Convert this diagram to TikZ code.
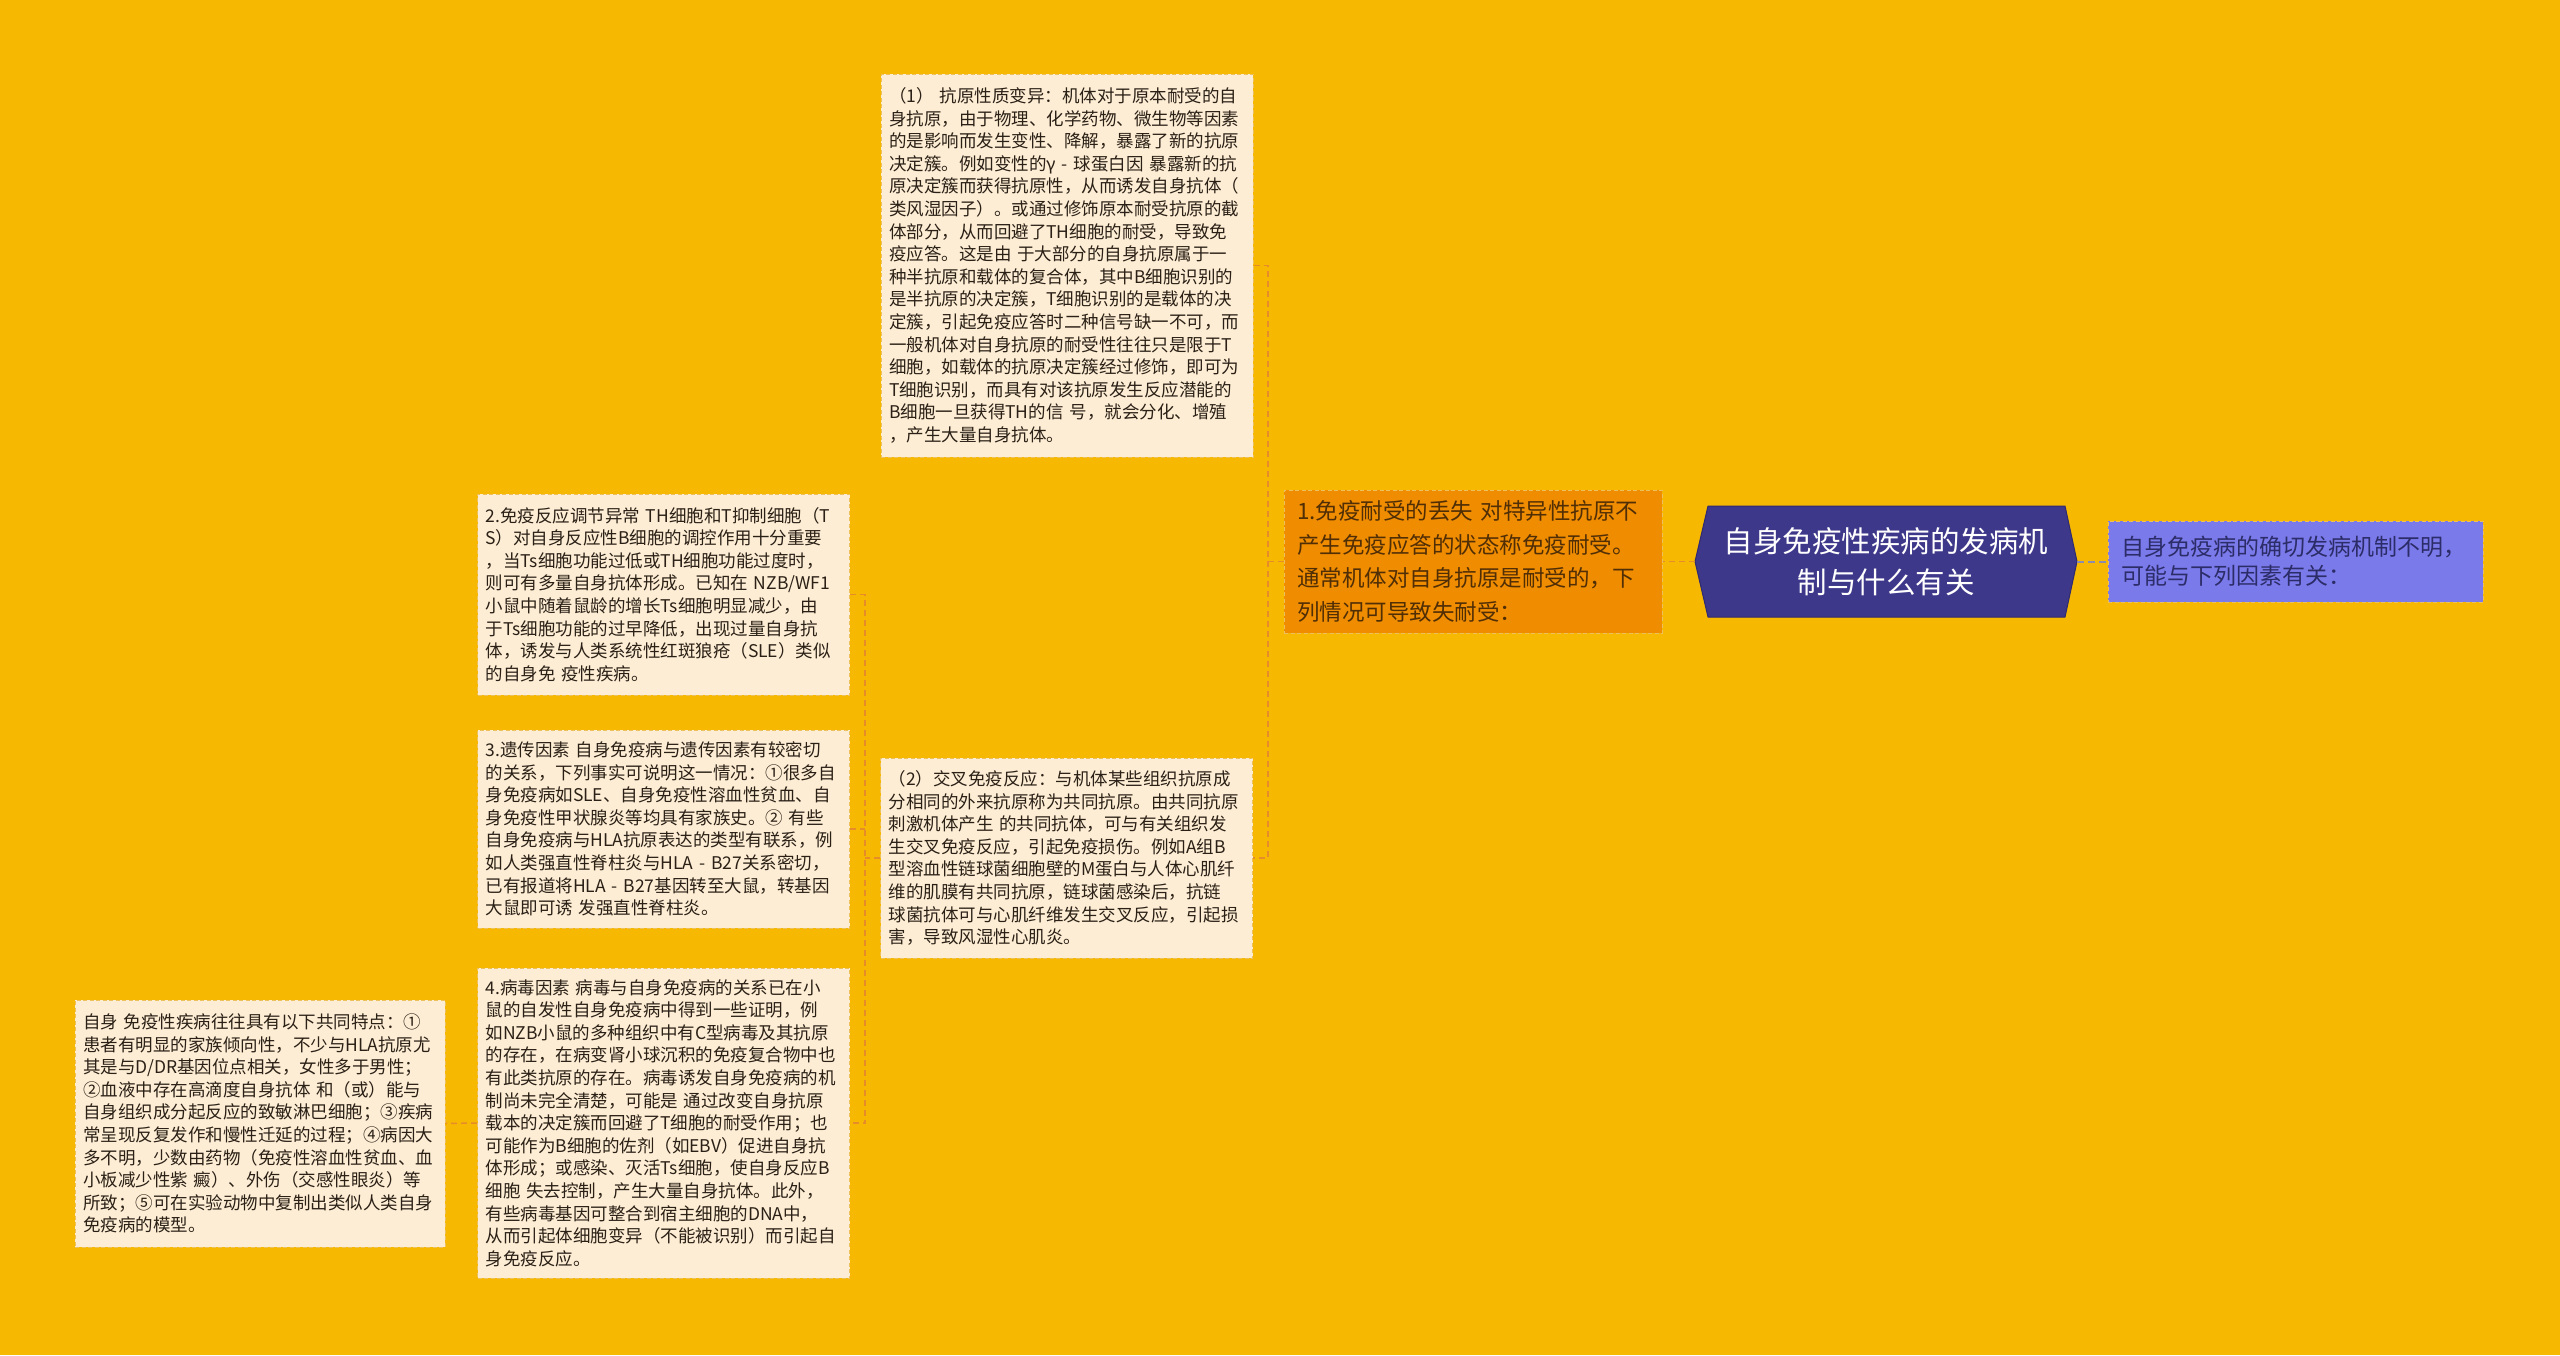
\documentclass[tikz,border=0pt]{standalone}
\usepackage{fontspec}
\usetikzlibrary{calc}
\newfontfamily\cjk{Noto Sans CJK SC}
\definecolor{bgcol}{RGB}{246,184,0}
\definecolor{boxfill}{RGB}{253,237,212}
\definecolor{boxborder}{RGB}{236,192,92}
\definecolor{boxtext}{RGB}{42,32,22}
\definecolor{orfill}{RGB}{240,140,0}
\definecolor{ortext}{RGB}{80,46,6}
\definecolor{cfill}{RGB}{62,56,138}
\definecolor{cborder}{RGB}{48,42,112}
\definecolor{rfill}{RGB}{122,122,235}
\definecolor{rtext}{RGB}{44,44,104}
\definecolor{conn}{RGB}{230,140,40}
\definecolor{conngray}{RGB}{140,140,175}
\begin{document}
\begin{tikzpicture}[x=1pt,y=-1pt,
  txtbox/.style={draw=boxborder, line width=1pt, dash pattern=on 4pt off 2.5pt, fill=boxfill, text=boxtext,
    font={\cjk\fontsize{17.5}{22.6}\selectfont}, align=left, text width=356pt, inner xsep=8pt, inner ysep=4pt,
    minimum width=372pt},
  ornode/.style={draw=boxborder, line width=1pt, dash pattern=on 4pt off 2.5pt, fill=orfill, text=ortext,
    font={\cjk\fontsize{22.5}{33.5}\selectfont}, align=left, text width=352pt, inner xsep=13pt, inner ysep=4pt,
    minimum width=378pt, minimum height=143pt},
  rnode/.style={draw=boxborder, line width=1pt, dash pattern=on 4pt off 2.5pt, fill=rfill, text=rtext,
    font={\cjk\fontsize{23}{29}\selectfont}, align=left, text width=349pt, inner xsep=13pt, inner ysep=4pt,
    minimum width=375pt, minimum height=81pt},
  cnode/.style={text=white, font={\cjk\fontsize{29.5}{41}\selectfont}, align=center, inner sep=0pt,
    minimum width=382pt, minimum height=111pt},
  link/.style={draw=conn, line width=1.5pt, dash pattern=on 6pt off 4pt},
  linkgray/.style={draw=conngray, line width=2pt, dash pattern=on 7pt off 4pt}
]
\fill[bgcol] (0,0) rectangle (2560,1355);

% central hexagon
\coordinate (cc) at (1886,561.5);
\fill[cfill, draw=cborder, line width=1pt]
  ($(cc)+(-191,0)$) -- ($(cc)+(-178,-55.5)$) -- ($(cc)+(179,-55.5)$) -- ($(cc)+(191,0)$)
  -- ($(cc)+(179,55.5)$) -- ($(cc)+(-178,55.5)$) -- cycle;
\node[cnode] (center) at (cc) {自身免疫性疾病的发病机\\制与什么有关};

\node[rnode] (right) at (2295.5,561.5) {自身免疫病的确切发病机制不明，\\可能与下列因素有关：};

\node[ornode] (tol) at (1473,561.5) {1.免疫耐受的丢失 对特异性抗原不\\产生免疫应答的状态称免疫耐受。\\通常机体对自身抗原是耐受的，下\\列情况可导致失耐受：};

\node[txtbox, minimum height=383pt] (a1) at (1067,265.5) {（1） 抗原性质变异：机体对于原本耐受的自\\身抗原，由于物理、化学药物、微生物等因素\\的是影响而发生变性、降解，暴露了新的抗原\\决定簇。例如变性的γ - 球蛋白因 暴露新的抗\\原决定簇而获得抗原性，从而诱发自身抗体（\\类风湿因子）。或通过修饰原本耐受抗原的截\\体部分，从而回避了TH细胞的耐受，导致免\\疫应答。这是由 于大部分的自身抗原属于一\\种半抗原和载体的复合体，其中B细胞识别的\\是半抗原的决定簇，T细胞识别的是载体的决\\定簇，引起免疫应答时二种信号缺一不可，而\\一般机体对自身抗原的耐受性往往只是限于T\\细胞，如载体的抗原决定簇经过修饰，即可为\\T细胞识别，而具有对该抗原发生反应潜能的\\B细胞一旦获得TH的信 号，就会分化、增殖\\，产生大量自身抗体。};

\node[txtbox, minimum height=200pt] (a2) at (1066.5,858) {（2）交叉免疫反应：与机体某些组织抗原成\\分相同的外来抗原称为共同抗原。由共同抗原\\刺激机体产生 的共同抗体，可与有关组织发\\生交叉免疫反应，引起免疫损伤。例如A组B\\型溶血性链球菌细胞壁的M蛋白与人体心肌纤\\维的肌膜有共同抗原，链球菌感染后，抗链\\球菌抗体可与心肌纤维发生交叉反应，引起损\\害，导致风湿性心肌炎。};

\node[txtbox, minimum height=201pt] (f2) at (663.5,594.5) {2.免疫反应调节异常 TH细胞和T抑制细胞（T\\S）对自身反应性B细胞的调控作用十分重要\\，当Ts细胞功能过低或TH细胞功能过度时，\\则可有多量自身抗体形成。已知在 NZB/WF1\\小鼠中随着鼠龄的增长Ts细胞明显减少，由\\于Ts细胞功能的过早降低，出现过量自身抗\\体，诱发与人类系统性红斑狼疮（SLE）类似\\的自身免 疫性疾病。};

\node[txtbox, minimum height=198pt] (f3) at (663.5,829) {3.遗传因素 自身免疫病与遗传因素有较密切\\的关系，下列事实可说明这一情况：①很多自\\身免疫病如SLE、自身免疫性溶血性贫血、自\\身免疫性甲状腺炎等均具有家族史。② 有些\\自身免疫病与HLA抗原表达的类型有联系，例\\如人类强直性脊柱炎与HLA - B27关系密切，\\已有报道将HLA - B27基因转至大鼠，转基因\\大鼠即可诱 发强直性脊柱炎。};

\node[txtbox, minimum height=310pt] (f4) at (663.5,1123) {4.病毒因素 病毒与自身免疫病的关系已在小\\鼠的自发性自身免疫病中得到一些证明，例\\如NZB小鼠的多种组织中有C型病毒及其抗原\\的存在，在病变肾小球沉积的免疫复合物中也\\有此类抗原的存在。病毒诱发自身免疫病的机\\制尚未完全清楚，可能是 通过改变自身抗原\\载本的决定簇而回避了T细胞的耐受作用；也\\可能作为B细胞的佐剂（如EBV）促进自身抗\\体形成；或感染、灭活Ts细胞，使自身反应B\\细胞 失去控制，产生大量自身抗体。此外，\\有些病毒基因可整合到宿主细胞的DNA中，\\从而引起体细胞变异（不能被识别）而引起自\\身免疫反应。};

\node[txtbox, minimum width=370pt, text width=354pt, minimum height=247pt] (left) at (260,1123.5) {自身 免疫性疾病往往具有以下共同特点：①\\患者有明显的家族倾向性，不少与HLA抗原尤\\其是与D/DR基因位点相关，女性多于男性；\\②血液中存在高滴度自身抗体 和（或）能与\\自身组织成分起反应的致敏淋巴细胞；③疾病\\常呈现反复发作和慢性迁延的过程；④病因大\\多不明，少数由药物（免疫性溶血性贫血、血\\小板减少性紫 癜）、外伤（交感性眼炎）等\\所致；⑤可在实验动物中复制出类似人类自身\\免疫病的模型。};

% connectors
\draw[linkgray] (center.east) -- (right.west);
\draw[link] (center.west) -- (tol.east);
\draw[link] (tol.west) -- ++(-15.5,0) coordinate (b1);
\draw[link] (a1.east) -| (b1) |- (a2.east);
\draw[link] (a2.west) -- ++(-15,0) coordinate (b2);
\draw[link] (f2.east) -| (b2) |- (f4.east);
\draw[link] (f3.east) -- (f3.east -| b2);
\draw[link] (f4.west) -- (left.east);
\end{tikzpicture}
\end{document}
